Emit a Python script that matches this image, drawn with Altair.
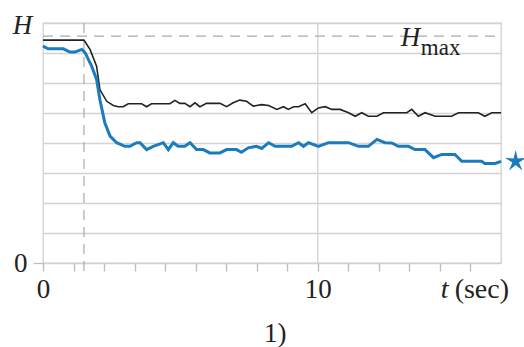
import altair as alt
import pandas as pd

# ---- data ----
black_t = [0.0, 1.49, 1.71, 1.95, 2.07, 2.32, 2.56, 2.74, 2.92, 3.10, 3.59, 3.77, 3.95, 4.62, 4.80,
           4.98, 5.16, 5.35, 5.53, 5.71, 5.95, 6.44, 6.68, 6.92, 7.16, 7.41, 7.65, 7.95, 8.21,
           8.51, 8.75, 8.93, 9.12, 9.30, 9.54, 9.78, 10.02, 10.27, 10.51, 10.81, 11.12, 11.36,
           11.60, 11.84, 12.15, 12.39, 13.24, 13.42, 13.66, 13.90, 14.27, 14.87, 15.12, 15.84,
           16.08, 16.33, 16.67]
black_h = [7.43, 7.43, 7.12, 6.56, 5.78, 5.39, 5.25, 5.21, 5.21, 5.31, 5.31, 5.21, 5.31, 5.31, 5.42,
           5.32, 5.32, 5.21, 5.34, 5.21, 5.32, 5.32, 5.21, 5.34, 5.43, 5.39, 5.23, 5.28, 5.25,
           5.12, 5.21, 5.12, 5.21, 5.21, 5.31, 5.01, 5.17, 5.21, 5.12, 5.12, 5.01, 4.89,
           5.01, 4.89, 4.89, 5.01, 5.01, 5.12, 4.89, 5.01, 4.89, 4.89, 5.01, 5.01,
           4.89, 5.01, 5.01]

blue_t = [0.0, 0.19, 0.74, 0.98, 1.16, 1.41, 1.53, 1.77, 1.95, 2.07, 2.25, 2.44, 2.68, 2.98, 3.16,
          3.41, 3.53, 3.77, 4.01, 4.38, 4.56, 4.74, 4.92, 5.16, 5.35, 5.59, 5.83, 6.07, 6.44,
          6.68, 7.04, 7.22, 7.47, 7.77, 7.96, 8.21, 8.45, 9.05, 9.30, 9.48, 9.66, 10.02, 10.39,
          11.12, 11.48, 11.84, 12.15, 12.45, 12.69, 12.93, 13.30, 13.54, 13.90, 14.21, 14.51,
          14.99, 15.24, 15.96, 16.08, 16.45, 16.67]
blue_h = [7.23, 7.14, 7.14, 7.03, 7.03, 7.12, 7.01, 6.56, 6.12, 5.45, 4.67, 4.23, 4.01, 3.89, 3.89,
          4.01, 4.01, 3.78, 3.89, 4.01, 3.78, 4.01, 3.89, 3.89, 4.01, 3.78, 3.78, 3.67, 3.67,
          3.78, 3.78, 3.69, 3.84, 3.89, 3.82, 4.01, 3.89, 3.89, 4.01, 3.89, 4.01, 3.89, 4.01,
          4.01, 3.89, 3.89, 4.12, 4.01, 4.00, 3.89, 3.89, 3.78, 3.78, 3.51, 3.62,
          3.62, 3.39, 3.39, 3.32, 3.32, 3.39]

star_t = [17.2]
star_h = [3.39]

x_ticks = [round(k * 10 / 9, 6) for k in range(16)]
y_grid = list(range(9))
h_max = 7.56
t_switch = 1.49
t_grid = [10]

BLUE = "#1b7bbf"
GRID = "#d2d2d2"
DASH = "#ababab"
TXT = "#222222"
FONT = "Liberation Serif"

xs = alt.Scale(domain=[0, 150 / 9], nice=False, zero=False)
ys = alt.Scale(domain=[0, 8], nice=False)

df_black = pd.DataFrame({"t": black_t, "H": black_h})
df_blue = pd.DataFrame({"t": blue_t, "H": blue_h})
df_star = pd.DataFrame({"t": star_t, "H": star_h})
df_grid = pd.DataFrame({"H": y_grid})
df_vgrid = pd.DataFrame({"t": t_grid})

x_axis = alt.Axis(values=x_ticks, tickCount=40, grid=False, domain=False, ticks=True,
                  tickColor="#bdbdbd", tickSize=8, tickWidth=1.3, labelFlush=False,
                  labelOverlap=False, labelBaseline="alphabetic",
                  labelExpr="datum.value == 0 ? '0' : (abs(datum.value - 10) < 0.01 ? '10' : '')",
                  labelFont=FONT, labelFontSize=27, labelColor=TXT, labelPadding=26, title=None)
y_axis = alt.Axis(values=y_grid, tickCount=40, grid=True, gridColor=GRID, gridWidth=1.3,
                  domain=False, ticks=True, tickSize=10, tickWidth=1.3, labelOverlap=False,
                  tickColor={"condition": {"test": "datum.value === 0", "value": "#bdbdbd"},
                             "value": "transparent"},
                  labelExpr="datum.value == 0 ? '0' : ''", labelFont=FONT, labelFontSize=27,
                  labelColor=TXT, labelPadding=6,
                  title="H", titleAngle=0, titleFont=FONT, titleFontStyle="italic",
                  titleFontWeight="normal", titleFontSize=27, titleColor=TXT,
                  titleX=-21, titleY=10, titleAlign="center", titleBaseline="alphabetic")

X = lambda f: alt.X(f, scale=xs, axis=x_axis)
Y = lambda f: alt.Y(f, scale=ys, axis=y_axis)

axes = alt.Chart(df_grid).mark_rule(opacity=0).encode(
    x=X("t0:Q"), y=Y("H:Q"),
).transform_calculate(t0="0")

vgrid = alt.Chart(df_vgrid).mark_rule(color=GRID, strokeWidth=1.3).encode(
    x=X("t:Q"), y=alt.datum(0), y2=alt.datum(8))

hmax_line = alt.Chart(pd.DataFrame({"H": [h_max]})).mark_rule(
    color=DASH, strokeWidth=1.2, strokeDash=[10, 7]).encode(
    y=Y("H:Q"), x=alt.datum(0), x2=alt.datum(150 / 9))

switch_line = alt.Chart(pd.DataFrame({"t": [t_switch]})).mark_rule(
    color=DASH, strokeWidth=1.2, strokeDash=[10, 7]).encode(
    x=X("t:Q"), y=alt.datum(8), y2=alt.datum(-0.45))

black = alt.Chart(df_black).mark_line(color=TXT, strokeWidth=1.6).encode(
    x=X("t:Q"), y=Y("H:Q"))
blue = alt.Chart(df_blue).mark_line(color=BLUE, strokeWidth=3).encode(
    x=X("t:Q"), y=Y("H:Q"))

star_path = ("M0,-1L0.18,-0.25L0.95,-0.31L0.29,0.1L0.59,0.81L0,0.33L-0.59,0.81L-0.29,0.1"
             "L-0.95,-0.31L-0.18,-0.25Z")
star = alt.Chart(df_star).mark_point(shape=star_path, filled=True, color=BLUE, size=520,
                                     opacity=1, clip=False).encode(
    x=X("t:Q"), y=Y("H:Q"))


def label(text, t, h, size=27, style="normal", align="left"):
    return alt.Chart(pd.DataFrame({"t": [t], "H": [h]})).mark_text(
        text=text, font=FONT, fontSize=size, fontStyle=style, color=TXT, align=align,
        baseline="alphabetic", clip=False).encode(
        x=X("t:Q"), y=Y("H:Q"))


texts = [
    label("H", 13.02, 7.23, size=27, style="italic"),
    label("max", 13.75, 6.95, size=23),
    label("t", 14.47, -1.18, size=28, style="italic"),
    label("(sec)", 14.98, -1.18, size=28),
    label("1)", 8.45, -2.62, size=27, align="center"),
]

chart = alt.layer(axes, vgrid, hmax_line, switch_line, black, blue, star, *texts).properties(
    width=458, height=240,
    autosize=alt.AutoSizeParams(type="none"),
    padding={"left": 43, "top": 23, "right": 23, "bottom": 84},
    background="white",
).configure_view(stroke=GRID, strokeWidth=1.3)

chart.save("out.html", embed_options={"renderer": "svg", "actions": False})
